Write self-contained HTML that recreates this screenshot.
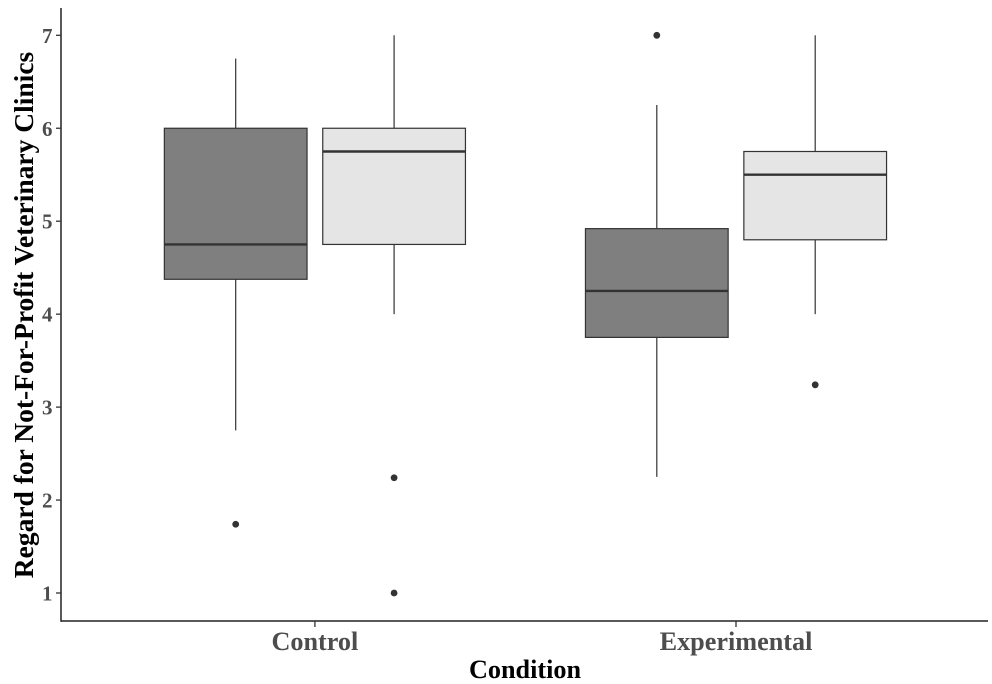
<!DOCTYPE html>
<html>
<head>
<meta charset="utf-8">
<style>
html,body{margin:0;padding:0;background:#fff;}
svg{display:block;filter:blur(0.3px);}
text{font-family:"Liberation Serif",serif;font-weight:bold;}
</style>
</head>
<body>
<svg id="chart" width="992" height="684" viewBox="0 0 992 684" xmlns="http://www.w3.org/2000/svg">
<text transform="translate(33,315) rotate(-90)" text-anchor="middle" font-size="27.5" fill="#000">Regard for Not-For-Profit Veterinary Clinics</text>
<text x="525" y="678" text-anchor="middle" font-size="26.2" fill="#000">Condition</text>
<g id="plot"></g>
</svg>
<script>
const categories = ['Control', 'Experimental'];
const yTickLabels = [1, 2, 3, 4, 5, 6, 7];
const groupNames = ['dark', 'light'];
const groupFills = ['#7f7f7f', '#e5e5e5'];
const whiskerLow = [[2.75, 4], [2.25, 4]];
const q1Values = [[4.375, 4.75], [3.75, 4.8]];
const medianValues = [[4.75, 5.75], [4.25, 5.5]];
const q3Values = [[6, 6], [4.92, 5.75]];
const whiskerHigh = [[6.75, 7], [6.25, 7]];
const outlierValues = [[[1.74], [2.24, 1]], [[7], [3.24]]];

const SVGNS = 'http://www.w3.org/2000/svg';
const plot = document.getElementById('plot');
const left = 61, right = 988, top0 = 8, bottom = 621;
const yScale = v => 593 - (v - 1) * (593 - 35.3) / 6;
const xScale = i => 314.9 + i * 421.1;
const dodge = 79.2, boxW = 142.7;

function make(tag, attrs, parent) {
  const el = document.createElementNS(SVGNS, tag);
  for (const k in attrs) el.setAttribute(k, attrs[k]);
  (parent || plot).appendChild(el);
  return el;
}

categories.forEach((cat, c) => {
  groupNames.forEach((g, s) => {
    const cx = xScale(c) + (s === 0 ? -dodge : dodge);
    const group = make('g', {});
    
    
    const wLow = make('line', {x1: cx, x2: cx, y1: yScale(q1Values[c][s]), y2: yScale(whiskerLow[c][s]), stroke: '#333', 'stroke-width': 1.2}, group);
    
    
    const wHigh = make('line', {x1: cx, x2: cx, y1: yScale(q3Values[c][s]), y2: yScale(whiskerHigh[c][s]), stroke: '#333', 'stroke-width': 1.2}, group);
    
    
    const rect = make('rect', {x: cx - boxW / 2, y: yScale(q3Values[c][s]), width: boxW, height: yScale(q1Values[c][s]) - yScale(q3Values[c][s]), fill: groupFills[s], stroke: '#333', 'stroke-width': 1.2}, group);
    
    
    const med = make('line', {x1: cx - boxW / 2, x2: cx + boxW / 2, y1: yScale(medianValues[c][s]), y2: yScale(medianValues[c][s]), stroke: '#333', 'stroke-width': 2.4}, group);
    
    
    outlierValues[c][s].forEach(v => {
      const pt = make('circle', {cx: cx, cy: yScale(v), r: 3.4, fill: '#333'}, group);
      
      
    });
  });
});

const yAxis = make('line', {x1: left, x2: left, y1: top0, y2: bottom + 0.75, stroke: '#222', 'stroke-width': 1.5});


const xAxis = make('line', {x1: left, x2: right, y1: bottom, y2: bottom, stroke: '#222', 'stroke-width': 1.5});



yTickLabels.forEach(t => {
  const tick = make('line', {x1: left - 5, x2: left, y1: yScale(t), y2: yScale(t), stroke: '#333', 'stroke-width': 1.3});
  
  
  const lab = make('text', {x: left - 8.5, y: yScale(t) + 7.5, 'text-anchor': 'end', 'font-size': 21, fill: '#4d4d4d'});
  lab.textContent = t;
  
  
});

categories.forEach((cat, c) => {
  const tick = make('line', {x1: xScale(c), x2: xScale(c), y1: bottom, y2: bottom + 6, stroke: '#333', 'stroke-width': 1.3});
  
  
  const lab = make('text', {x: xScale(c), y: 650, 'text-anchor': 'middle', 'font-size': 26.2, fill: '#4d4d4d'});
  lab.textContent = cat;
  
  
});
</script>
</body>
</html>
